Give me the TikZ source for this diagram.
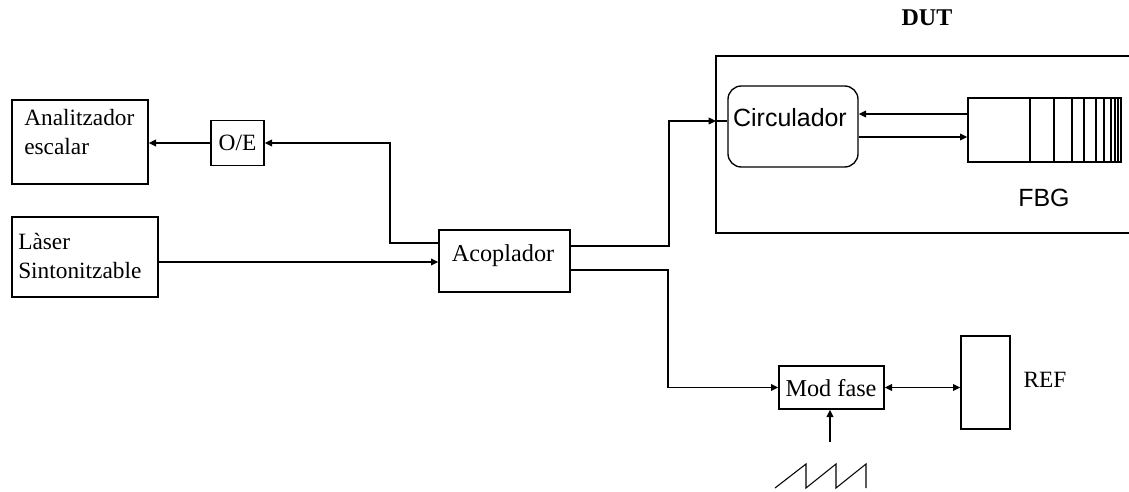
\documentclass[tikz,border=0pt]{standalone}
\usepackage{fontspec}
\setmainfont{Liberation Serif}
\newfontfamily\arialf{Liberation Sans}
\usetikzlibrary{arrows.meta}
\begin{document}
\begin{tikzpicture}[x=0.75pt,y=-0.75pt,
  box/.style={draw,line width=1pt,inner sep=0pt},
  conn/.style={line width=1pt},
  tip/.style={-{Triangle[length=5.5pt,width=5pt]}},
  dtip/.style={{Triangle[length=5.5pt,width=5pt]}-{Triangle[length=5.5pt,width=5pt]}},
  txt/.style={font=\fontsize{17.5}{22}\selectfont,inner sep=0pt},
  btxt/.style={font=\fontsize{18.2}{22}\selectfont,inner sep=0pt},
  stxt/.style={font=\arialf\fontsize{18.7}{22}\selectfont,inner sep=0pt}]
\useasboundingbox (0,0) rectangle (1129,492);
% boxes
\node[box,minimum width=102pt,minimum height=63pt] (an) at (80,142) {};
\node[txt,align=left,anchor=west] (antext) at (24,132) {Analitzador\\escalar};
\node[box,minimum width=39.75pt,minimum height=33.75pt,txt] (oe) at (237.5,143) {O/E};
\node[box,minimum width=109.5pt,minimum height=60pt] (laser) at (85,257) {};
\node[txt,align=left,anchor=west] (lasertext) at (18,256) {Làser\\Sintonitzable};
\node[box,minimum width=98.25pt,minimum height=46.5pt] (acop) at (504.5,261) {};
\node[btxt] (acoptext) at (503,256) {Acoplador};
% DUT
\coordinate (dutw) at (716,121);
\draw[conn] (1129,56) -| (716,233) -- (1129,233);
\node[font=\bfseries\fontsize{18}{20}\selectfont,inner sep=0pt] (dut) at (927,18) {DUT};
\node[box,rounded corners=10pt,minimum width=97.5pt,minimum height=60.75pt] (circ) at (793,126.5) {};
\node[stxt] (circtext) at (790,118) {Circulador};
\node[box,minimum width=114.75pt,minimum height=48pt] (fbg) at (1044.5,130) {};
\foreach \gx in {1030,1054,1072,1084,1096,1104,1111,1115,1118}
  \draw[line width=0.8pt] (\gx,98) -- (\gx,162);
\node[stxt] (fbgtext) at (1044,198) {FBG};
% lower
\node[box,minimum width=78.75pt,minimum height=32.25pt] (mod) at (831.5,387.5) {};
\node[btxt] (modtext) at (831,388) {Mod fase};
\node[box,minimum width=36.75pt,minimum height=69.75pt] (ref) at (985.5,382.5) {};
\node[txt] (reftext) at (1045,380) {REF};
\coordinate (sawin) at (830,442);
% connectors
\draw[conn,tip] (oe.west) -- (oe.west -| an.east);
\draw[conn,tip] (acop.west |- 0,243) -| (390,143) -- (oe.east);
\draw[conn,tip] (laser.east |- 0,262) -- (acop.west |- 0,262);
\draw[conn,tip] (acop.east |- 0,246) -| (669,121) -- (dutw);
\draw[conn] (dutw) -- (circ.west |- dutw);
\draw[conn,tip] (fbg.west |- 0,114) -- (circ.east |- 0,114);
\draw[conn,tip] (circ.east |- 0,137) -- (fbg.west |- 0,137);
\draw[conn,tip] (acop.east |- 0,270) -| (668,387.5) -- (mod.west);
\draw[conn,dtip] (mod.east) -- (mod.east -| ref.west);
\draw[conn,tip] (sawin) -- (sawin |- mod.south);
\draw[line width=0.8pt] (775,488) -- (806,464) -- (806,488) -- (836,464) -- (836,488) -- (866,464) -- (866,488);
\end{tikzpicture}
\end{document}
